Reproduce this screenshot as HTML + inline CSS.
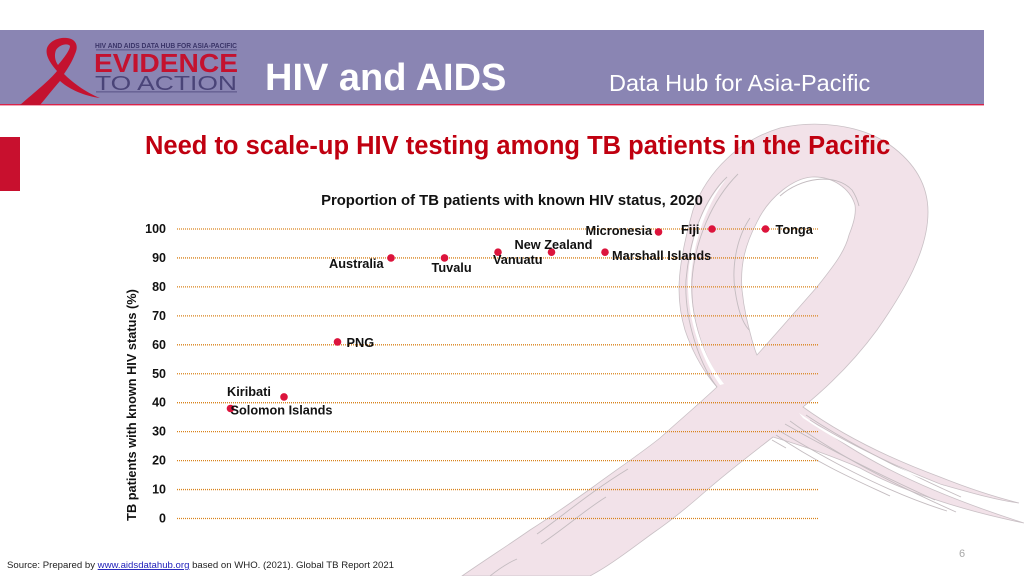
<!DOCTYPE html>
<html lang="en">
<head>
<meta charset="utf-8">
<title>HIV and AIDS Data Hub - TB patients HIV testing</title>
<style>
html,body{margin:0;padding:0;background:#fff;}
#slide{position:relative;width:1024px;height:576px;overflow:hidden;background:#fff;font-family:"Liberation Sans",Arial,sans-serif;}
svg{position:absolute;left:0;top:0;}
</style>
</head>
<body>
<div id="slide">
<svg id="stage" width="1024" height="576" viewBox="0 0 1024 576" xmlns="http://www.w3.org/2000/svg" font-family="'Liberation Sans',Arial,sans-serif">
  <!-- Background ribbon -->
  <g>
    <path fill="#f2e2e9" stroke="#c9c0c5" stroke-width="0.8" fill-rule="evenodd"
      d="M462,576 C485,560 510,544 530,530 C552,516 572,502 593,487 C616,470 640,454 660,438 C680,420 700,403 717,387 C700,368 690,345 685,330 C676,300 676,270 693,210 C708,170 740,140 780,128 C815,120 860,124 890,145 C915,163 928,185 928,212 C928,250 905,290 877,330 C855,360 830,385 803,407 C835,430 880,455 940,477 C965,487 995,497 1019,503 C995,500 965,491 940,484 C900,468 850,445 810,420 C850,450 905,485 1024,523 C960,510 900,490 860,468 C830,455 800,445 773,437 C750,455 730,470 707,490 C690,505 672,520 653,533 C635,546 615,562 597,572 L590,576 Z
         M757,355 C775,335 795,312 817,287 C832,268 845,252 849,235 C855,220 856,212 855,205 C850,188 832,176 812,177 C795,178 770,195 757,222 C745,245 740,265 742,290 C744,310 748,325 752,340 C754,346 755,351 757,355 Z"/>
    <g fill="none" stroke="#c4bcc0" stroke-width="0.9">
      <path d="M738,174 C712,200 695,240 692,280 C690,320 705,360 723,384"/>
      <path d="M727,177 C705,198 690,235 686,280 C684,320 700,365 717,387"/>
      <path d="M750,218 C735,240 732,270 735,290 C738,310 742,322 749,330"/>
      <path d="M780,196 C800,178 835,172 852,190 C856,196 858,202 859,206"/>
      <path d="M537,534 C560,518 590,492 628,469"/>
      <path d="M541,544 C565,528 585,510 606,497"/>
      <path d="M490,576 C500,568 510,562 517,559"/>
      <path d="M790,421 C830,450 880,478 956,512"/>
      <path d="M776,435 C820,465 860,482 890,496"/>
      <path d="M778,430 C820,455 880,490 947,511"/>
      <path d="M785,424 C830,450 880,475 935,500"/>
      <path d="M806,415 C840,438 900,470 961,497"/>
      <path d="M772,440 L786,448"/>
    </g>
    <path fill="#fff" d="M799,413 C845,445 890,466 950,488 C900,472 850,450 803,418 Z"/>
    <path fill="#fff" d="M688,280 C690,235 705,200 727,178 C708,202 693,240 691,280 C690,320 704,358 724,384 L720,385 C702,360 687,320 688,280 Z"/>
  </g>

  <!-- Header -->
  <rect x="0" y="30" width="984" height="75" fill="#8a85b3"/>
  <rect x="0" y="104" width="984" height="1.4" fill="#d8234a"/>
  <g>
    <path fill="#c4122f" fill-rule="evenodd"
      d="M20,105 C35,92 50,80 57,71 C50,63 45,55 47,48 C50,40 60,37 67,38 C76,39 79,46 75,54 C72,62 68,68 64,74 C72,82 85,92 100,98 C85,96 70,90 60,81 C52,90 46,98 40,105 Z
         M58,65 C64,58 70,50 70,46 C68,43 60,44 56,50 C54,55 55,61 58,65 Z"/>
    <text x="95" y="48" font-size="7.2" font-weight="700" fill="#3a3468" textLength="142" lengthAdjust="spacingAndGlyphs">HIV AND AIDS DATA HUB FOR ASIA-PACIFIC</text>
    <rect x="96" y="49.5" width="141" height="0.8" fill="#4a4478"/>
    <text x="94" y="72" font-size="26" font-weight="700" fill="#c4122f" textLength="144" lengthAdjust="spacingAndGlyphs">EVIDENCE</text>
    <text x="95" y="90" font-size="20.5" fill="#4a4478" textLength="142" lengthAdjust="spacingAndGlyphs">TO ACTION</text>
    <rect x="96" y="91.5" width="141" height="0.8" fill="#4a4478"/>
  </g>
  <text x="265" y="90" font-size="38" font-weight="700" fill="#fff">HIV and AIDS</text>
  <text x="609" y="91" font-size="23.5" fill="#fff">Data Hub for Asia-Pacific</text>

  <rect x="0" y="137" width="20" height="54" fill="#c8102e"/>
  <text x="145" y="154" font-size="25.5" font-weight="700" fill="#c00010">Need to scale-up HIV testing among TB patients in the Pacific</text>

  <!-- Chart -->
  <text x="512" y="205" font-size="14.85" font-weight="700" fill="#111" text-anchor="middle">Proportion of TB patients with known HIV status, 2020</text>
  <text transform="translate(136,405) rotate(-90)" font-size="12.75" font-weight="700" fill="#111" text-anchor="middle">TB patients with known HIV status (%)</text>
  <g id="chart"></g>

  <text x="962" y="557" font-size="11" fill="#a8a8a8" text-anchor="middle">6</text>
  <text x="7" y="568" font-size="9.6" fill="#222">Source: Prepared by <tspan fill="#2222bb" text-decoration="underline">www.aidsdatahub.org</tspan> based on WHO. (2021). Global TB Report 2021</text>
</svg>
</div>
<script>
const categories = ["Solomon Islands", "Kiribati", "PNG", "Australia", "Tuvalu", "Vanuatu", "New Zealand", "Marshall Islands", "Micronesia", "Fiji", "Tonga"];
const values = [38, 42, 61, 90, 90, 92, 92, 92, 99, 100, 100];
const yTicks = [0, 10, 20, 30, 40, 50, 60, 70, 80, 90, 100];

// Label placement relative to each point (layout only).
const labelDx = { "Solomon Islands": 0, "Kiribati": -57, "PNG": 9, "Australia": -62, "Tuvalu": -13, "Vanuatu": -5, "New Zealand": -37, "Marshall Islands": 7, "Micronesia": -73, "Fiji": -31, "Tonga": 10 };
const labelDy = { "Solomon Islands": 6, "Kiribati": -1, "PNG": 5, "Australia": 10, "Tuvalu": 14, "Vanuatu": 12, "New Zealand": -3, "Marshall Islands": 8, "Micronesia": 3, "Fiji": 5, "Tonga": 5 };

const plot = { left: 177, right: 819, top: 229, bottom: 518.5, slots: 12 };
function xScale(i) { return plot.left + (plot.right - plot.left) / plot.slots * (i + 1); }
function yScale(v) { return plot.bottom - (v / 100) * (plot.bottom - plot.top); }

const NS = "http://www.w3.org/2000/svg";
const chart = document.getElementById("chart");
function make(tag, attrs, text) {
  const el = document.createElementNS(NS, tag);
  for (const k in attrs) el.setAttribute(k, attrs[k]);
  if (text !== undefined) el.textContent = text;
  chart.appendChild(el);
  return el;
}

yTicks.forEach(function (t) {
  const line = make("line", { x1: plot.left, x2: plot.right, y1: yScale(t), y2: yScale(t), stroke: "#d9821a", "stroke-width": 1.3, "stroke-dasharray": "1 1" });
  
  
  const label = make("text", { x: 166, y: yScale(t) + 4, "font-size": 12.5, "font-weight": 700, fill: "#111", "text-anchor": "end" }, String(t));
  
  
});

values.forEach(function (v, i) {
  const px = xScale(i), py = yScale(v);
  const dot = make("circle", { cx: px, cy: py, r: 3.8, fill: "#dc143c" });
  
  
});

values.forEach(function (v, i) {
  const name = categories[i];
  const label = make("text", { x: xScale(i) + labelDx[name], y: yScale(v) + labelDy[name], "font-size": 12.75, "font-weight": 700, fill: "#111" }, name);
  
  
});
</script>
</body>
</html>
